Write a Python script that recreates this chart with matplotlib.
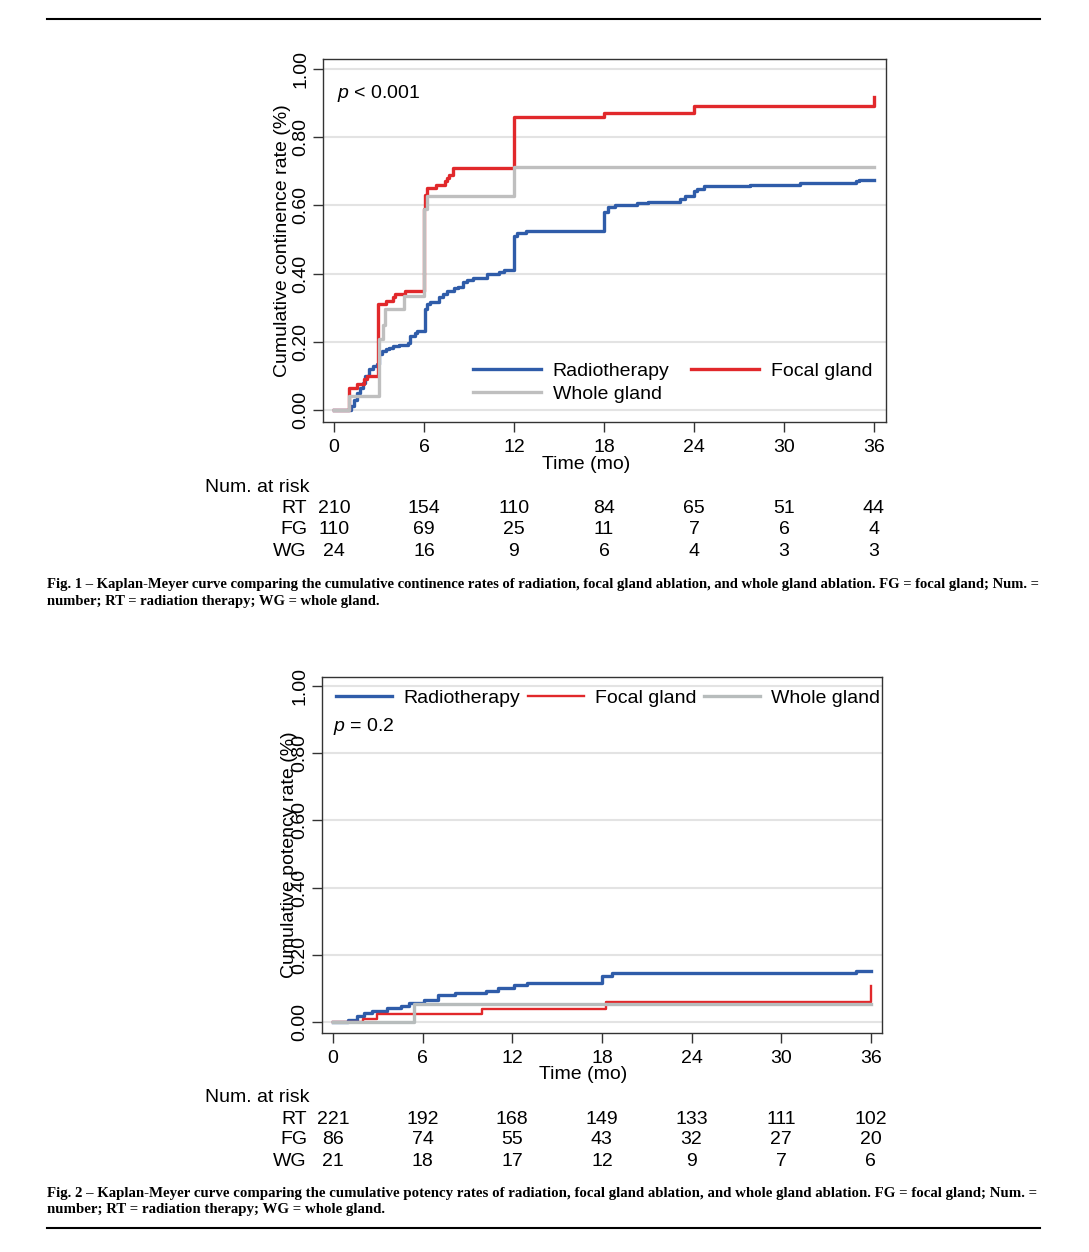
import matplotlib
matplotlib.use("Agg")
import matplotlib.pyplot as plt
import matplotlib.transforms as mtransforms
from matplotlib.lines import Line2D

plt.rcParams['font.family'] = ['Liberation Sans', 'DejaVu Sans']
plt.rcParams['mathtext.fontset'] = 'custom'
plt.rcParams['mathtext.it'] = 'Liberation Sans:italic'
plt.rcParams['mathtext.rm'] = 'Liberation Sans'

# ---- Fig 1: continence ----
rt1_t = [0, 1.11, 1.36, 1.55, 1.73, 1.92, 2.10, 2.34, 2.59, 2.84, 3.03, 3.21, 3.45, 3.70, 3.95,
         4.32, 4.93, 5.06, 5.38, 5.55, 6.04, 6.17, 6.41, 7.03, 7.27, 7.52, 8.01, 8.26, 8.63, 8.88,
         9.25, 10.23, 10.97, 11.34, 12.01, 12.21, 12.82, 18.0, 18.25, 18.74, 20.22, 20.96, 23.06,
         23.43, 24.0, 24.17, 24.66, 27.74, 31.07, 34.77, 35.02, 36.0]
rt1_v = [0, 0.012, 0.03, 0.05, 0.065, 0.08, 0.10, 0.12, 0.13, 0.134, 0.163, 0.173, 0.178, 0.183,
         0.188, 0.19, 0.198, 0.217, 0.227, 0.232, 0.296, 0.31, 0.317, 0.33, 0.34, 0.35, 0.357,
         0.36, 0.374, 0.38, 0.388, 0.398, 0.405, 0.41, 0.51, 0.52, 0.525, 0.58, 0.594, 0.60, 0.607,
         0.61, 0.618, 0.628, 0.643, 0.648, 0.656, 0.66, 0.667, 0.672, 0.675, 0.675]
fg1_t = [0, 0.99, 1.55, 1.97, 2.17, 2.96, 3.45, 3.95, 4.07, 4.73, 5.97, 6.04, 6.17, 6.78, 7.40,
         7.52, 7.69, 7.94, 12.0, 18.0, 24.0, 36.0]
fg1_v = [0, 0.066, 0.075, 0.09, 0.10, 0.31, 0.32, 0.33, 0.34, 0.35, 0.59, 0.63, 0.65, 0.66, 0.67,
         0.68, 0.69, 0.71, 0.86, 0.87, 0.89, 0.917]
wg1_t = [0, 0.99, 3.03, 3.25, 3.40, 4.70, 6.0, 6.17, 12.0, 36.0]
wg1_v = [0, 0.041, 0.207, 0.25, 0.295, 0.335, 0.589, 0.628, 0.711, 0.711]
risk1_rt = [210, 154, 110, 84, 65, 51, 44]
risk1_fg = [110, 69, 25, 11, 7, 6, 4]
risk1_wg = [24, 16, 9, 6, 4, 3, 3]

# ---- Fig 2: potency ----
rt2_t = [0, 0.99, 1.61, 2.10, 2.60, 3.59, 4.58, 5.07, 6.06, 7.0, 8.17, 10.27, 11.01, 12.13, 13.0,
         18.0, 18.69, 35.0, 36.0]
rt2_v = [0, 0.007, 0.017, 0.027, 0.032, 0.04, 0.047, 0.055, 0.065, 0.08, 0.087, 0.093, 0.10,
         0.11, 0.115, 0.138, 0.145, 0.152, 0.152]
fg2_t = [0, 1.98, 2.97, 9.95, 18.3, 36.0]
fg2_v = [0, 0.01, 0.023, 0.037, 0.06, 0.107]
wg2_t = [0, 5.4, 36.0]
wg2_v = [0, 0.053, 0.053]
risk2_rt = [221, 192, 168, 149, 133, 111, 102]
risk2_fg = [86, 74, 55, 43, 32, 27, 20]
risk2_wg = [21, 18, 17, 12, 9, 7, 6]

months = [0, 6, 12, 18, 24, 30, 36]
yticks = [0, 0.2, 0.4, 0.6, 0.8, 1.0]

cap1 = ['Fig. 1 \u2013 Kaplan-Meyer curve comparing the cumulative continence rates of radiation, '
        'focal gland ablation, and whole gland ablation. FG = focal gland; Num. =',
        'number; RT = radiation therapy; WG = whole gland.']
cap2 = ['Fig. 2 \u2013 Kaplan-Meyer curve comparing the cumulative potency rates of radiation, '
        'focal gland ablation, and whole gland ablation. FG = focal gland; Num. =',
        'number; RT = radiation therapy; WG = whole gland.']

BLUE = '#2f5ca9'
RED = '#e1282b'
GREY = '#bfbfbf'
GREY2 = '#b7bcbc'
FS = 14

W, H = 1089, 1252
fig = plt.figure(figsize=(W / 100, H / 100), dpi=100)


def setup_axes(ax, xlim, ylim, ylabel, ylab_x):
    ax.set_xlim(*xlim)
    ax.set_ylim(*ylim)
    ax.set_xticks(months)
    ax.set_yticks(yticks)
    ax.set_yticklabels(['%.2f' % v for v in yticks], rotation=90, va='center')
    ax.tick_params(axis='both', direction='out', length=7, width=1, labelsize=FS, color='#333333')
    ax.tick_params(axis='y', pad=3)
    ax.tick_params(axis='x', pad=5)
    ax.grid(axis='y', color='#e3e3e3', lw=1.5)
    ax.set_axisbelow(True)
    for s in ax.spines.values():
        s.set_color('#333333')
        s.set_linewidth(1)
    ax.set_xlabel('Time (mo)', fontsize=FS)
    ax.xaxis.set_label_coords(0.467, -0.094)
    ax.set_ylabel(ylabel, fontsize=FS)
    ax.yaxis.set_label_coords(ylab_x, 0.5)


def risk_table(ax, rows, y0):
    trans = mtransforms.blended_transform_factory(ax.transData, fig.transFigure)
    fig.text(205 / W, 1 - y0 / H, 'Num. at risk', fontsize=FS, va='center', ha='left')
    for i, (name, vals) in enumerate(rows):
        yy = 1 - (y0 + 21 * (i + 1)) / H
        fig.text(307 / W, yy, name, fontsize=FS, va='center', ha='right')
        for m, v in zip(months, vals):
            ax.text(m, yy, str(v), transform=trans, fontsize=FS, va='center', ha='center')


# top chart
ax1 = fig.add_axes([323 / W, 1 - 422 / H, 563 / W, 363 / H])
setup_axes(ax1, (-0.73, 36.8), (-0.035, 1.029), 'Cumulative continence rate (%)', -0.057)
ax1.step(rt1_t, rt1_v, where='post', color=BLUE, lw=2.4, label='Radiotherapy')
ax1.step(fg1_t, fg1_v, where='post', color=RED, lw=2.4, label='Focal gland')
ax1.step(wg1_t, wg1_v, where='post', color=GREY, lw=2.4, label='Whole gland')
h, l = ax1.get_legend_handles_labels()
ax1.legend([h[0], h[2], h[1]], [l[0], l[2], l[1]], ncol=2, frameon=False, fontsize=FS,
           loc='upper left', bbox_to_anchor=((473 - 323) / 563, (422 - 362) / 363),
           borderpad=0, borderaxespad=0, handlelength=3.5, handletextpad=0.6,
           columnspacing=1.1, labelspacing=0.3)
ax1.text(0.025, 0.906, r'$p$ < 0.001', transform=ax1.transAxes, fontsize=FS, va='center')
risk_table(ax1, [('RT', risk1_rt), ('FG', risk1_fg), ('WG', risk1_wg)], 488)

# bottom chart
ax2 = fig.add_axes([322 / W, 1 - 1033 / H, 560 / W, 356 / H])
setup_axes(ax2, (-0.74, 36.75), (-0.033, 1.027), 'Cumulative potency rate (%)', -0.043)
ax2.step(rt2_t, rt2_v, where='post', color=BLUE, lw=2.4, label='Radiotherapy')
ax2.step(fg2_t, fg2_v, where='post', color=RED, lw=1.7, label='Focal gland')
ax2.step(wg2_t, wg2_v, where='post', color=GREY2, lw=2.4, label='Whole gland')
ax2.legend(ncol=3, frameon=False, fontsize=FS, loc='upper left',
           bbox_to_anchor=((336 - 322) / 560, (1033 - 689) / 356),
           borderpad=0, borderaxespad=0, handlelength=2.9, handletextpad=0.55,
           columnspacing=0.4)
ax2.text(0.02, 0.862, r'$p$ = 0.2', transform=ax2.transAxes, fontsize=FS, va='center')
risk_table(ax2, [('RT', risk2_rt), ('FG', risk2_fg), ('WG', risk2_wg)], 1098)

# captions: bold serif, first line squeezed to the rule width
renderer = fig.canvas.get_renderer()
for lines, y0 in ((cap1, 585), (cap2, 1193)):
    t1 = fig.text(47 / W, 1 - y0 / H, lines[0], va='center', family='Liberation Serif',
                  weight='bold', fontsize=10)
    w = t1.get_window_extent(renderer).width
    fs = 10 * (1040 - 47) / w
    t1.set_fontsize(fs)
    fig.text(47 / W, 1 - (y0 + 17) / H, lines[1], va='center', family='Liberation Serif',
             weight='bold', fontsize=fs)

for yy in (19, 1228):
    fig.add_artist(Line2D([47 / W, 1040 / W], [1 - yy / H] * 2, transform=fig.transFigure,
                          color='black', lw=1.5))

fig.savefig('out.png', dpi=100)
